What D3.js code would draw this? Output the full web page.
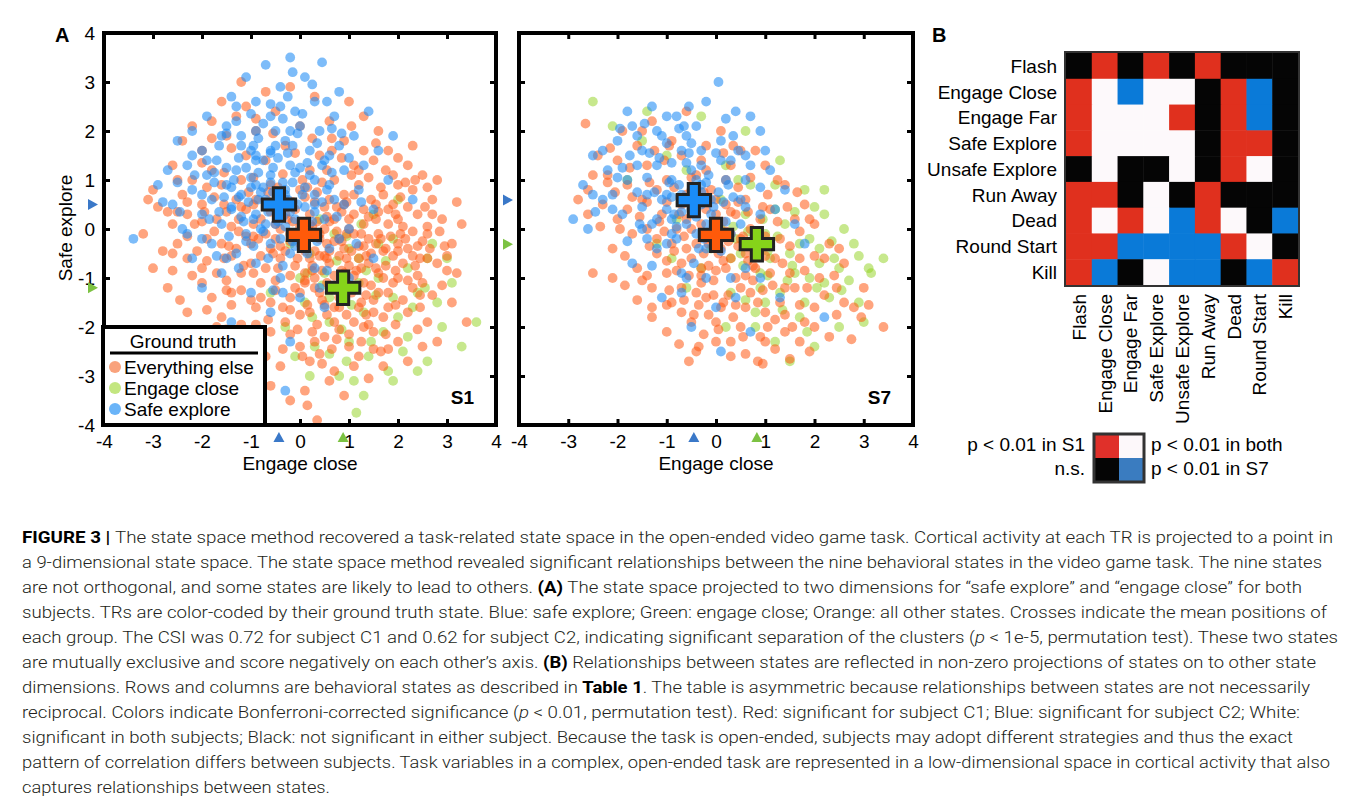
<!DOCTYPE html>
<html><head><meta charset="utf-8">
<script src="https://cdn.jsdelivr.net/npm/d3@7"></script>
<style>body{margin:0;background:#fff}svg{display:block}</style>
</head><body><svg id="c" width="1355" height="804"></svg>
<script>
// ---------- DATA ----------
const axisTicks = [-4,-3,-2,-1,0,1,2,3,4];
const groups = ["Everything else","Engage close","Safe explore"];

const s1Else = [[-1.2,3.0],[-0.7,2.8],[-1.6,2.6],[0.3,2.7],[-0.2,2.9],[1.0,2.6],[-1.1,2.5],
[-1.8,2.2],[-1.3,2.3],[-0.5,2.4],[0.6,2.2],[1.3,2.3],[-2.2,2.1],[0.0,2.1],[1.6,2.0],[-0.9,2.0],
[-2.4,1.8],[-1.5,1.9],[-0.3,1.7],[0.9,1.8],[1.8,1.6],[2.3,1.7],[-2.0,1.6],[0.4,1.5],[1.3,1.6],[-1.1,1.5],
[-2.6,1.3],[-1.8,1.2],[-0.7,1.4],[0.2,1.2],[1.1,1.3],[1.9,1.1],[2.5,1.1],[2.8,1.0],[-1.2,1.0],[0.7,1.0],[1.5,1.4],[-2.2,1.0],[2.2,1.3],
[-3.0,0.8],[-2.4,0.7],[-1.6,0.9],[-0.9,0.6],[0.0,0.8],[0.6,0.6],[1.2,0.9],[1.7,0.7],[2.3,0.8],[2.7,0.6],[-2.0,0.5],[0.9,0.5],[1.9,0.5],[-0.3,0.6],[2.0,0.9],[-1.3,0.6],
[-2.9,0.45],[-2.3,0.3],[-1.7,0.2],[-1.1,0.4],[-0.5,0.1],[0.2,0.3],[0.7,0.2],[1.3,0.4],[1.8,0.1],[2.4,0.3],[2.9,0.2],[-2.6,0.1],[0.5,0.45],[1.0,0.0],[-0.1,0.4],[1.6,0.35],[2.1,0.05],[-1.4,0.05],
[-3.2,-0.1],[-2.5,-0.3],[-1.9,-0.2],[-1.3,-0.4],[-0.7,-0.1],[0.0,-0.3],[0.4,-0.1],[0.9,-0.4],[1.4,-0.2],[2.0,-0.3],[2.6,-0.1],[3.1,-0.3],[-2.1,-0.45],[0.3,-0.45],[1.1,-0.1],[1.7,-0.45],[2.3,-0.05],[-0.4,-0.35],[0.7,-0.25],[-1.0,-0.3],
[-3.0,-0.8],[-2.3,-0.6],[-1.7,-0.9],[-1.0,-0.7],[-0.4,-0.6],[0.1,-0.9],[0.6,-0.7],[1.2,-0.6],[1.6,-0.9],[2.1,-0.7],[2.6,-0.6],[3.0,-0.85],[-1.4,-0.55],[0.4,-0.55],[1.9,-0.55],[-0.2,-0.95],[0.9,-0.9],[2.4,-0.95],
[-2.7,-1.2],[-2.0,-1.1],[-1.4,-1.3],[-0.8,-1.1],[-0.2,-1.4],[0.3,-1.2],[0.8,-1.4],[1.3,-1.1],[1.8,-1.3],[2.3,-1.2],[3.1,-1.5],[-1.0,-1.45],[0.1,-1.05],[1.5,-1.45],[2.0,-1.0],[-0.5,-1.25],
[-2.3,-1.7],[-1.6,-1.8],[-0.9,-1.6],[-0.3,-1.9],[0.2,-1.7],[0.7,-1.9],[1.2,-1.6],[1.7,-1.8],[2.2,-1.7],[2.6,-1.9],[3.4,-1.9],[-1.2,-1.95],[0.5,-1.55],[1.4,-1.95],
[-1.9,-2.2],[-1.2,-2.3],[-0.6,-2.1],[0.0,-2.4],[0.5,-2.2],[1.0,-2.4],[1.5,-2.1],[2.0,-2.3],[2.8,-2.3],[-0.2,-2.15],[0.8,-2.05],[1.8,-2.45],
[-1.3,-2.7],[-0.7,-2.6],[-0.4,-2.8],[0.2,-2.7],[0.7,-2.9],[1.2,-2.6],[1.7,-2.8],[0.4,-2.55],[2.2,-2.7],
[-0.6,-3.2],[0.1,-3.3],[0.15,-3.6],[0.35,-3.9],[0.9,-3.4],[1.4,-3.05],[-0.2,-3.5],[0.6,-3.1],
[-0.8,0.2],[-0.2,-0.1],[0.5,0.0],[0.8,-0.2],[1.1,0.3],[0.2,-0.6],[-0.6,-0.4],[-0.3,0.3],[0.6,-0.45],[1.4,-0.7],[0.9,0.7],[-1.1,-0.15],[0.3,0.55],[-0.1,-0.75],[1.2,-0.35],[0.0,0.05],[0.45,-0.85],[1.6,-0.1],[-0.7,-0.8],[0.1,-1.1],[0.7,-1.15],[1.0,-0.75],[-0.4,0.0],[0.35,0.15]];
const s1ElseMore = [[-1.55,1.15],[-0.95,1.05],[-0.35,1.12],[0.45,0.95],[1.05,1.1],[1.65,0.85],[2.15,0.95],[-1.9,0.85],[0.15,0.85],[-0.6,0.9],[1.4,1.05],[2.6,0.85],
[-2.3,0.55],[-1.75,0.65],[-1.2,0.45],[-0.65,0.75],[-0.15,0.55],[0.35,0.75],[0.75,0.45],[1.45,0.6],[2.05,0.65],[2.55,0.45],[1.1,0.7],[-0.95,0.5],[0.1,0.65],
[-2.0,0.15],[-1.5,0.35],[-0.95,0.1],[-0.25,0.2],[0.25,0.05],[0.85,0.35],[1.3,0.1],[1.95,0.3],[2.6,0.05],[-0.6,0.35],[1.55,0.2],[0.55,0.25],[-1.25,0.2],
[-2.3,-0.15],[-1.6,-0.3],[-0.85,-0.2],[-0.2,-0.25],[0.15,-0.15],[0.55,-0.3],[0.95,-0.1],[1.3,-0.35],[1.85,-0.15],[2.4,-0.35],[2.85,-0.05],[-1.25,-0.05],[0.75,-0.05],[1.55,-0.3],[2.15,-0.2],
[-2.6,-0.5],[-1.9,-0.65],[-1.15,-0.75],[-0.55,-0.5],[-0.05,-0.6],[0.25,-0.75],[0.8,-0.55],[1.05,-0.45],[1.45,-0.5],[1.75,-0.75],[2.3,-0.55],[2.8,-0.7],[0.55,-0.6],[1.25,-0.8],[2.0,-0.45],
[-2.2,-0.95],[-1.5,-1.05],[-0.95,-0.9],[-0.45,-0.8],[0.3,-1.0],[0.55,-1.1],[1.1,-0.95],[1.45,-1.15],[1.95,-0.85],[2.5,-1.1],[-0.1,-1.2],[0.85,-0.85],[1.7,-1.0],[2.2,-1.05],
[-1.8,-1.4],[-1.2,-1.25],[-0.6,-1.5],[0.0,-1.3],[0.45,-1.45],[1.05,-1.3],[1.6,-1.3],[2.1,-1.45],[2.7,-1.35],[0.7,-1.6],[1.25,-1.5],[-0.35,-1.6],
[-1.9,-1.65],[-1.4,-1.55],[-0.65,-1.85],[0.0,-1.75],[0.35,-1.95],[0.95,-1.75],[1.5,-1.7],[1.95,-1.95],[2.45,-1.6],[1.1,-1.9],
[-1.5,-2.05],[-0.9,-2.4],[-0.35,-2.45],[0.25,-2.1],[0.65,-2.45],[1.25,-2.3],[1.65,-2.5],[2.4,-2.05],[0.05,-2.6],[1.0,-2.15],
[-1.4,1.65],[-0.55,1.95],[0.65,1.85],[1.05,2.1],[-2.0,1.35],[2.0,1.45],[-0.1,1.55],[0.85,1.45],[-2.7,0.35],[-3.1,0.6],[3.3,0.1],[3.0,-0.55],[-2.8,-0.45],[-2.45,-1.45],[2.9,-1.15],
[0.2,0.1],[0.6,0.15],[1.0,0.2],[1.4,0.25],[1.8,0.4],[2.2,0.45],[0.4,-0.2],[0.85,-0.25],[1.25,-0.1],[1.65,-0.2],[2.05,-0.1],[2.5,-0.25],[0.1,-0.45],[0.5,-0.55],[0.95,-0.6],[1.35,-0.55],[1.75,-0.4],[2.2,-0.4],[2.65,-0.4],[0.25,-0.85],[0.7,-0.95],[1.15,-0.85],[1.55,-0.8],[1.9,-1.1],[2.35,-0.75],[0.4,-1.3],[0.9,-1.15],[1.35,-1.35],[1.8,-1.6],[2.45,-1.35],[0.15,-1.55],[0.55,-1.75],[0.8,-1.6],[1.35,-1.75],[1.95,-1.55],[0.3,-2.3],[0.75,-2.25],[1.3,-2.0],[1.75,-2.15],[-0.2,-1.65],[-0.5,-1.05],[-0.8,-0.55],[-1.2,-0.9],[-1.55,-0.6],[-0.3,-0.45],[-0.15,0.15],[-0.5,-0.2],[-0.95,-0.15],[-1.45,-0.35],[-1.75,-0.05],[-2.15,0.1],[-2.5,0.35],[-1.95,0.35],[-1.55,0.5],[-1.05,0.75],[-0.45,0.85],[0.05,1.0],[0.55,1.2],[1.2,1.2],[1.75,1.2],[2.35,1.0],[-0.8,-1.4],[-1.5,-1.25],[-2.0,-0.8],[-2.6,-0.85],[0.95,0.55],[1.55,0.5],[2.0,0.2],[2.7,0.3],[2.45,-0.6],[-0.05,-2.05],[0.45,-2.75],[1.1,-2.8],[1.5,-2.45],[2.5,-2.4],[-0.9,-1.95],[-1.7,-2.0],[0.65,1.6],[1.55,1.75],[-0.9,2.25],[0.25,1.85],[-1.8,1.85],[-2.5,1.0],[3.2,-0.9],[2.95,-0.35],[3.2,0.55]];

const s1Engage = [[1.5,0.3],[0.7,-0.1],[1.9,-0.2],[0.2,-0.5],[1.2,-0.6],[2.2,-0.8],[0.5,-0.9],[1.6,-1.0],[2.6,-0.6],[0.9,-1.3],[1.9,-1.4],[0.1,-1.5],[1.3,-1.7],[2.3,-1.6],[0.6,-1.9],[1.7,-2.1],[2.9,-2.0],[1.0,-2.3],[2.1,-2.5],[0.3,-2.4],[1.4,-2.6],[3.6,-1.9],[2.6,-2.7],[0.8,-3.0],[1.9,-3.1],[1.15,-3.75],[1.3,-3.4],[-0.3,-2.0],[0.0,-1.0],[2.4,-1.3],[1.0,-0.4],[3.1,-1.1],[-0.6,-1.3],[2.0,0.6],[0.4,0.2],[1.2,-1.1],[0.6,-1.4],[1.6,-0.3],[2.8,-1.5],[0.2,-3.0],[-0.2,-0.3],[1.8,-2.9],[2.2,-2.2],[0.95,-2.7],[3.3,-2.4],
[0.75,-0.65],[1.35,-0.85],[0.45,-1.15],[1.05,-1.55],[1.55,-1.35],[0.25,-1.8],[0.85,-2.05],[1.45,-2.3],[2.0,-1.8],[2.55,-1.2],[1.75,-0.65],[0.15,-0.9],[0.6,-2.55],[1.1,-3.1],[2.4,-2.9],[2.7,-0.3],[1.25,0.1],[0.95,-0.15],[3.0,-0.6],[-0.1,-2.6]];

const s1Safe = [[-0.2,3.5],[0.45,3.4],[-0.7,3.35],[-1.1,3.1],[0.1,3.1],[-0.4,2.9],[0.8,2.8],[-1.4,2.7],[-0.9,2.6],[0.3,2.6],[-0.1,2.4],[-1.9,2.3],[-0.6,2.3],[0.7,2.3],[1.4,2.4],[-1.3,2.2],[0.0,2.1],[-2.2,2.0],[-0.9,2.0],[0.4,2.0],[1.1,1.9],[-1.6,1.9],[-2.5,1.8],[-0.3,1.8],[0.8,1.7],[-1.2,1.7],[1.6,1.6],[-2.0,1.6],[-0.6,1.6],[0.2,1.6],[-1.7,1.4],[-0.9,1.4],[0.5,1.4],[1.3,1.3],[-2.3,1.3],[-0.2,1.3],[-1.3,1.2],[0.9,1.2],[-2.9,0.9],[-1.9,1.1],[-0.6,1.1],[0.2,1.1],[1.8,1.0],[-1.5,0.9],[-0.9,0.9],[0.6,0.9],[-2.2,0.8],[-0.3,0.8],[1.2,0.8],[-1.2,0.7],[0.3,0.7],[-1.8,0.6],[-0.7,0.6],[0.9,0.5],[-2.6,0.5],[-1.4,0.4],[-0.4,0.4],[0.1,0.45],[1.5,0.4],[-2.0,0.3],[-0.9,0.3],[0.5,0.2],[-1.6,0.1],[-0.5,0.1],[1.0,0.0],[-2.4,0.0],[-1.1,-0.1],[0.0,-0.1],[-3.4,-0.2],[-1.8,-0.3],[-0.6,-0.3],[0.6,-0.4],[-1.3,-0.5],[-0.2,-0.5],[-2.2,-0.6],[-0.9,-0.7],[0.3,-0.8],[-1.6,-0.9],[-0.4,-1.0],[1.0,-1.0],[-2.0,-1.2],[-1.0,-1.3],[0.0,-1.4],[-0.6,-1.7],[0.5,-1.6],[-1.4,-1.9],[-1.9,-2.2],[-0.2,-2.3],[-0.8,-2.6],[-0.3,-3.3],[1.9,1.9],[2.3,0.6],[1.5,-0.6],[-0.1,0.2],[-0.8,0.0],[0.3,1.0],[-1.0,1.6],[-0.5,2.0],[0.6,1.5],[-1.5,2.1],[-2.7,1.2],[-2.0,-0.2],[-0.3,0.05],[-1.2,0.25],[0.8,-0.2]];
const s1SafeMore = [[-0.45,0.55],[-0.75,0.85],[-0.15,0.95],[-1.05,0.55],[-0.55,1.25],[0.05,0.7],[-0.35,0.25],[-1.35,1.0],[-0.85,1.15],[0.15,1.35],[-0.65,0.35],[-1.15,0.15],[-0.05,0.5],[0.45,0.55],[-1.55,0.65],[-0.95,1.7],[-0.25,1.55],[0.35,1.75],[-1.75,0.95],[-0.45,1.45],[0.65,1.15],[-1.25,1.45],[-0.15,-0.25],[-0.75,-0.05],[0.25,0.15],[-1.45,-0.15],[-0.95,-0.35],[-0.35,-0.75],[0.15,-0.5],[-1.85,0.2],[-2.15,1.1],[-1.65,1.7],[-0.75,2.15],[0.05,2.35],[-0.25,2.7],[0.55,2.6],[-1.0,2.35],[1.0,1.45],[0.75,0.25],[1.25,0.55],[-2.45,0.35],[-1.25,-0.8],[-0.55,-1.25],[0.4,-1.2],[-1.7,-0.55],[-0.85,0.6],[-0.6,0.95],[-0.3,0.7],[-1.0,0.85],[-0.1,1.15],[0.3,0.35],[-0.5,1.7],[-1.4,0.45],[-0.75,1.4],[0.1,0.05],[-1.1,1.25],[-0.4,-0.2],[0.55,0.8],[-1.9,1.4],[-0.2,2.0],[0.85,1.95],[-2.8,0.55],[1.15,-0.3],[-2.3,-0.1],[0.55,-0.85],[-1.5,1.95],[-0.6,2.55],[0.25,2.95],
[-0.55,0.45],[-0.35,0.95],[-0.8,0.75],[-0.2,0.35],[-1.0,1.05],[-0.6,1.55],[-0.15,1.7],[0.1,0.85],[-1.25,0.65],[-0.95,0.2],[-0.45,0.15],[0.3,0.5],[-1.5,1.25],[-0.85,1.85],[-0.35,2.25],[0.45,1.3],[-1.2,1.9],[-1.65,0.35],[-2.0,0.7],[-1.1,-0.25],[-0.65,-0.6],[-0.1,-0.35],[0.35,-0.25],[-0.05,1.95],[0.65,2.05],[-0.4,2.5],[-1.3,2.5],[-1.75,1.15],[-0.7,0.1],[-0.25,0.6],[0.0,1.25],[-0.55,0.75],[-0.9,1.5],[-1.4,0.85],[-2.2,1.5],[-2.5,0.95],[0.7,0.6],[-0.35,-1.3],[-1.5,-0.6],[-0.15,3.2]];

const s7Else = [[-2.65,2.15],[-2.15,1.65],[-1.9,2.0],[-1.3,2.2],[-0.6,2.4],[0.1,2.0],[-2.4,1.5],[-1.6,1.7],[-0.9,1.8],[0.5,1.6],[-2.2,1.1],[-1.4,1.3],[-0.3,1.4],[1.0,1.3],[-2.6,0.8],[-1.8,0.9],[-1.0,1.0],[0.2,1.0],[1.4,0.9],[-2.3,0.5],[-1.5,0.6],[-0.6,0.7],[0.6,0.6],[1.8,0.5],[-2.0,0.2],[-1.1,0.3],[-0.2,0.4],[0.9,0.2],[2.0,0.1],[-1.7,-0.1],[-0.8,0.0],[0.3,-0.1],[1.3,-0.2],[2.3,-0.3],[-2.1,-0.4],[-1.2,-0.5],[-0.4,-0.3],[0.6,-0.5],[1.7,-0.6],[-1.6,-0.8],[-0.7,-0.7],[0.2,-0.8],[1.1,-0.9],[2.1,-1.0],[-1.3,-1.2],[-0.3,-1.1],[0.7,-1.3],[1.6,-1.2],[2.45,-1.2],[-0.9,-1.5],[0.1,-1.6],[1.0,-1.7],[2.0,-1.6],[2.95,-1.8],[-0.5,-1.9],[0.5,-2.0],[1.4,-2.1],[3.4,-2.0],[-1.0,-2.1],[0.0,-2.3],[0.85,-2.7],[1.5,-2.65],[2.3,-2.2],[-0.4,-2.5],[0.3,-2.6],[-1.3,-1.8],[-2.5,-0.9],[1.9,-2.5],[2.6,-1.5],[-0.1,0.8],[0.4,0.3],[-0.5,-0.6],[0.9,-0.4],[-0.2,-0.2],[0.1,-0.4],[0.7,0.0],[-0.9,-0.3],[0.4,-1.0],[-0.6,0.2],[1.2,-0.6],[0.0,0.3],[-1.4,0.0],[0.8,-0.8],[-0.3,-0.8],[0.5,-0.2],[1.5,-0.9],[-1.0,-0.9],[0.2,0.5],[1.1,0.4],[-0.7,0.5],[0.6,-1.6],[-0.2,-1.4],[1.3,-1.5],[-0.7,-1.2],[0.0,-1.9],[0.9,-2.2],[-1.8,0.4],[-2.8,0.6],[-1.2,0.8],[0.3,1.3],[1.6,0.2],[2.6,-0.7],[3.0,-1.2],[-0.4,1.1],[1.8,-1.9]];
const s7ElseMore = [[-1.75,1.25],[-1.05,1.4],[-0.5,1.05],[0.15,1.55],[0.7,1.05],[-2.05,0.75],[-1.35,0.95],[-0.75,0.3],[-0.25,0.75],[0.45,0.85],[1.05,0.7],[1.65,0.75],[-1.55,0.25],[-1.0,0.55],[-0.45,0.35],[0.15,0.15],[0.65,0.35],[1.25,0.15],[1.7,-0.05],[-2.35,0.05],[-1.2,-0.2],[-0.65,-0.15],[-0.05,0.05],[0.45,-0.35],[1.0,-0.15],[1.5,-0.35],[2.0,-0.55],[-1.85,-0.55],[-1.0,-0.65],[-0.25,-0.5],[0.3,-0.6],[0.75,-0.75],[1.35,-0.7],[1.85,-1.2],[-1.4,-0.95],[-0.55,-0.95],[-0.05,-1.05],[0.5,-1.2],[1.15,-1.15],[1.7,-1.55],[-0.95,-1.25],[-0.35,-1.55],[0.25,-1.35],[0.85,-1.5],[1.4,-1.75],[2.2,-1.35],[-0.7,-1.7],[-0.15,-1.75],[0.35,-1.8],[1.05,-2.0],[1.7,-2.3],[-0.25,-2.15],[0.3,-2.3],[0.6,-2.55],[1.2,-2.45],[-0.75,-2.35],[-1.6,-1.45],[-2.1,-1.0],[2.75,-2.25],[3.1,-1.55],[2.2,-0.6],[-0.85,0.85],[-0.3,0.1],[0.25,-0.25],[0.8,-0.3],[-0.6,-0.4],[-0.15,-0.75],[0.6,-0.95],[-0.4,0.55],[0.05,-0.5],[1.0,-0.55],[-1.15,0.15],[-0.95,1.7],[-0.2,1.7],[0.8,1.6],[-2.0,1.4],[-1.5,2.0],[-2.5,1.1],[-0.4,-1.3],[0.15,-1.5],[1.55,-2.0],[2.45,-1.75],[-1.3,-1.6],[-0.55,-2.7],[0.95,-2.75],
[-0.15,-0.3],[0.2,-0.05],[0.55,-0.15],[-0.5,0.0],[-0.85,-0.45],[-0.3,-0.95],[0.15,-0.65],[0.65,-0.65],[1.1,-0.35],[-1.05,-0.05],[-0.5,0.8],[0.0,0.6],[0.45,0.55],[-1.4,0.55],[-1.7,0.65],[-1.95,0.0],[-1.35,-0.35],[-0.8,-0.85],[-0.05,-1.35],[0.4,-1.55],[0.95,-1.25],[1.4,-1.2],[1.8,-0.85],[2.4,-0.95],[-0.45,-1.75],[0.05,-2.05],[0.55,-2.2],[1.2,-1.85],[-1.0,-1.55],[-1.85,-1.15],[-2.6,0.3],[-2.2,0.95],[-1.25,1.6],[-0.7,1.5],[0.35,1.7],[1.25,1.0],[1.9,0.2],[2.5,-0.4],[-0.35,-2.4],[1.0,-2.3],[2.0,-2.0],[2.8,-1.6],[0.75,-1.05],[-0.65,-1.45],[-1.5,-1.05],[0.0,-0.85],[0.3,0.35],[-0.2,1.2],[0.95,0.45],[1.45,0.45]];

const s7Engage = [[-2.5,2.6],[-2.1,2.1],[-1.4,2.4],[-0.3,2.3],[0.6,2.0],[-1.0,1.5],[0.2,1.3],[1.3,1.4],[-1.8,1.0],[0.7,0.9],[1.8,0.8],[-0.5,0.5],[1.2,0.4],[2.2,0.3],[0.1,0.0],[1.0,-0.1],[1.9,-0.2],[2.6,0.0],[0.5,-0.5],[1.5,-0.5],[2.4,-0.6],[3.1,-0.8],[0.9,-0.9],[1.9,-1.0],[2.7,-1.05],[3.15,-0.9],[3.4,-0.6],[0.3,-1.3],[1.3,-1.3],[2.3,-1.4],[2.9,-1.5],[0.8,-1.7],[1.7,-1.8],[2.5,-2.0],[0.2,-2.0],[1.2,-2.3],[2.0,-2.4],[-0.6,-1.2],[-1.2,-0.3],[0.6,0.3],[1.6,-0.9],[1.1,-0.6],[2.1,-0.7],[0.4,-0.2],[1.4,0.1],[0.9,-1.2],[-0.3,-0.8],[2.8,-0.3],[1.8,-1.5],[-0.8,0.2],[1.5,-2.7],[2.2,-1.1],
[0.75,-0.35],[1.25,-0.15],[0.55,-0.75],[1.05,-0.95],[1.55,-0.75],[0.35,0.05],[1.7,-0.3],[2.05,-1.2],[0.95,0.2],[2.35,-0.25],[1.35,-1.65],[0.6,-1.45],[2.0,0.45],[0.1,0.6],[-0.1,-0.4],[1.85,-2.1],[2.55,-1.25],[2.9,-0.55],[0.45,1.0],[-0.6,1.2],[-1.5,1.8],[1.2,0.9],[0.8,-2.0],[-0.9,-0.6],[3.0,-1.9],[2.2,0.8],
[1.05,-0.45],[0.65,-0.05],[1.45,-1.05],[2.1,-0.4],[0.3,-0.6],[1.6,0.35],[2.5,-0.8],[1.0,-1.5]];

const s7Safe = [[0.05,3.0],[-0.2,2.6],[-1.3,2.5],[-0.8,2.3],[0.4,2.4],[-1.7,2.1],[-0.4,2.1],[0.9,2.0],[-2.0,1.8],[-1.1,1.9],[0.1,1.8],[-2.5,1.5],[-1.5,1.6],[-0.7,1.6],[0.6,1.5],[-2.2,1.2],[-1.2,1.3],[-0.3,1.3],[1.1,1.2],[-2.7,0.9],[-1.8,1.0],[-0.9,1.0],[0.2,1.0],[1.4,0.8],[-2.3,0.6],[-1.4,0.7],[-0.5,0.7],[0.5,0.6],[-1.9,0.3],[-1.0,0.4],[-0.1,0.3],[0.9,0.3],[-2.6,0.0],[-1.5,0.0],[-0.6,0.1],[0.3,-0.1],[-1.2,-0.4],[-0.2,-0.4],[0.8,-0.5],[-1.7,-0.7],[-0.7,-0.9],[0.3,-1.0],[-1.1,-1.4],[0.0,-1.6],[-0.5,-2.0],[0.7,-2.1],[0.1,-2.5],[1.3,-1.4],[1.8,-0.3],[2.2,-1.8],[-0.9,0.2],[-0.3,0.9],[-0.6,1.9],[0.3,1.4],[-1.6,1.3],[-1.0,0.7],[-0.1,0.6],[-1.3,0.1],[0.6,1.0],[-2.1,0.4],[-0.4,-0.1],[1.0,1.6],[-1.8,2.4],[-0.5,1.2],[-0.8,-0.2],[0.9,-1.0],[-2.9,0.2],[1.6,0.1]];
const s7SafeMore = [[-0.45,0.55],[-0.75,0.9],[-0.2,0.95],[-1.1,0.6],[-0.6,1.35],[0.05,0.75],[-0.4,0.25],[-1.4,1.05],[-0.9,1.35],[0.1,1.4],[-0.7,0.35],[-1.2,0.2],[-0.05,0.45],[0.35,0.65],[-1.6,0.75],[-1.0,1.75],[-0.3,1.6],[0.35,1.9],[-1.9,1.25],[-0.5,1.75],[0.7,1.3],[-1.35,1.55],[-0.25,-0.2],[-0.8,0.05],[0.2,0.15],[-1.55,0.1],[-1.0,-0.3],[-0.45,-0.7],[0.1,-0.45],[-2.1,0.7],[-2.3,1.6],[-1.45,2.15],[-0.75,2.05],[0.2,2.25],[-0.55,2.5],[0.7,2.3],[-1.0,2.3],[0.9,0.85],[0.5,0.1],[-2.45,0.35],[-1.3,-0.75],[-0.7,-1.3],[0.4,-1.4],[-1.8,-0.25],[-0.9,0.65],[-0.3,0.75],[-1.6,1.9],[1.2,0.4],[-0.2,-1.0],[0.6,-0.8],
[-0.5,0.4],[-0.3,0.5],[-0.7,0.7],[-0.15,1.1],[-0.95,0.95],[-0.55,1.55],[0.15,0.55],[-1.25,0.75],[-0.85,0.3],[-0.4,1.0],[0.0,1.55],[-1.15,1.45],[-1.75,1.5],[-1.5,0.45],[-0.2,0.1],[0.25,0.9],[-0.65,2.1],[-1.2,2.0],[-2.0,1.05],[-0.9,-0.1],[0.05,-0.2],[-0.35,-0.4],[0.45,1.6],[-2.5,0.7],[-1.95,2.05],[0.6,0.45],[-0.6,-1.0],[-1.4,-0.2]];

// group means (crosses) [x, y]
const s1Means = [[0.08,-0.12],[0.88,-1.2],[-0.43,0.5]];   // else, engage, safe
const s7Means = [[0.0,-0.12],[0.83,-0.31],[-0.45,0.59]];

// Panel B
const states = ["Flash","Engage Close","Engage Far","Safe Explore","Unsafe Explore","Run Away","Dead","Round Start","Kill"];
const sigRows = ["KRKRKRKKK","RWBWWKRBK","RWWWRKRBK","RWWWWKRRK","KWKKWKRWK","RRKWKRKKK","RWRWBRWKB","RRBBBBRWK","RBKWBBKBR"];
const legendCodes = [["R","W"],["K","B"]];
const legendLabels = [["p < 0.01 in S1","p < 0.01 in both"],["n.s.","p < 0.01 in S7"]];

// ---------- DRAW ----------
const svg = d3.select("#c");
const FONT = "'Liberation Sans', Arial, sans-serif";
const dotCol = {"Everything else":"#ff5a14","Engage close":"#8fd21c","Safe explore":"#1f8cf5"};
const dotOp = {"Everything else":0.55,"Engage close":0.5,"Safe explore":0.58};
const crossCol = {"Everything else":"#ff5a0a","Engage close":"#86d31a","Safe explore":"#1a8cf8"};
const triCol = {"Engage close":"#7cc242","Safe explore":"#3a78c8"};

function panel(x0, x1, sets, means, name, showYLabels){
  const x = d3.scaleLinear().domain([-4,4]).range([x0,x1]);
  const y = d3.scaleLinear().domain([-4,4]).range([425,33]);
  const g = svg.append("g");
  [1,0,2].forEach(i=>{
    g.append("g").selectAll("circle").data(sets[i]).join("circle")
      .attr("cx",d=>x(d[0])).attr("cy",d=>y(d[1])).attr("r",4.9)
      .attr("fill",dotCol[groups[i]]).attr("fill-opacity",dotOp[groups[i]]);
  });
  [2,0,1].forEach(i=>{
    g.append("path").attr("d",d3.symbol(d3.symbolCross,620)())
      .attr("transform",`translate(${x(means[i][0])},${y(means[i][1])})`)
      .attr("fill",crossCol[groups[i]]).attr("stroke","#222").attr("stroke-width",3)
      .attr("stroke-linejoin","miter");
  });
  const fmt = d=>d;
  const bottom = g.append("g").attr("transform","translate(0,425)")
    .call(d3.axisBottom(x).tickValues(axisTicks).tickSizeInner(-6).tickSizeOuter(0).tickPadding(10).tickFormat(fmt));
  const top = g.append("g").attr("transform","translate(0,33)")
    .call(d3.axisTop(x).tickValues(axisTicks.slice(1,-1)).tickSizeInner(-6).tickSizeOuter(0).tickFormat(""));
  const left = g.append("g").attr("transform",`translate(${x0},0)`)
    .call(d3.axisLeft(y).tickValues(axisTicks).tickSizeInner(-6).tickSizeOuter(0).tickPadding(9).tickFormat(showYLabels?fmt:""));
  const right = g.append("g").attr("transform",`translate(${x1},0)`)
    .call(d3.axisRight(y).tickValues(axisTicks.slice(1,-1)).tickSizeInner(-6).tickSizeOuter(0).tickFormat(""));
  [bottom,top,left,right].forEach(a=>{
    a.select(".domain").remove();
    a.selectAll("line").attr("stroke","#000").attr("stroke-width",3);
    a.selectAll("text").attr("font-family",FONT).attr("font-size",19).attr("fill","#000");
  });
  g.append("rect").attr("x",x0).attr("y",33).attr("width",x1-x0).attr("height",392)
    .attr("fill","none").attr("stroke","#000").attr("stroke-width",4);
  [2,1].forEach(i=>{
    const ty = y(means[i][1]), tx = x(means[i][0]);
    g.append("path").attr("d",`M${x0-16},${ty-5.5}L${x0-6},${ty}L${x0-16},${ty+5.5}Z`).attr("fill",triCol[groups[i]]);
    g.append("path").attr("d",`M${tx-5.5},${442}L${tx},${432}L${tx+5.5},${442}Z`).attr("fill",triCol[groups[i]]);
  });
  g.append("text").attr("x",(x0+x1)/2).attr("y",470).attr("text-anchor","middle")
    .attr("font-family",FONT).attr("font-size",19).text("Engage close");
  g.append("text").attr("x",x1-22).attr("y",404).attr("text-anchor","end")
    .attr("font-family",FONT).attr("font-size",19).attr("font-weight","bold").text(name);
}

panel(104,496,[s1Else.concat(s1ElseMore),s1Engage,s1Safe.concat(s1SafeMore)],s1Means,"S1",true);
panel(519,913,[s7Else.concat(s7ElseMore),s7Engage,s7Safe.concat(s7SafeMore)],s7Means,"S7",false);

svg.append("text").attr("transform","translate(72,228) rotate(-90)").attr("text-anchor","middle")
  .attr("font-family",FONT).attr("font-size",19).text("Safe explore");
svg.append("text").attr("x",55).attr("y",42).attr("font-family",FONT).attr("font-size",20).attr("font-weight","bold").text("A");
svg.append("text").attr("x",932).attr("y",42).attr("font-family",FONT).attr("font-size",20).attr("font-weight","bold").text("B");

// legend in S1
const lg = svg.append("g");
lg.append("rect").attr("x",103).attr("y",327).attr("width",162).attr("height",98)
  .attr("fill","#fff").attr("stroke","#000").attr("stroke-width",4);
lg.append("text").attr("x",183).attr("y",348).attr("text-anchor","middle").attr("font-family",FONT).attr("font-size",19).text("Ground truth");
lg.append("line").attr("x1",110).attr("x2",258).attr("y1",353).attr("y2",353).attr("stroke","#000").attr("stroke-width",3);
const legendFill = {"Everything else":"#f9a27c","Engage close":"#c3e680","Safe explore":"#6ab4f8"};
groups.forEach((gname,i)=>{
  const cy = 367 + i*21;
  lg.append("circle").attr("cx",115).attr("cy",cy).attr("r",6).attr("fill",legendFill[gname]);
  lg.append("text").attr("x",124).attr("y",cy+7).attr("font-family",FONT).attr("font-size",19).text(gname);
});

// ---------- Panel B heatmap ----------
const hx = d3.scaleBand().domain(states).range([1066,1298]);
const hy = d3.scaleBand().domain(states).range([53,285]);
const sigColor = d3.scaleOrdinal().domain(["R","W","B","K"]).range(["#e0301e","#fdf9fb","#0a7ad8","#050505"]);
const hg = svg.append("g");
const cells = [];
sigRows.forEach((row,ri)=>row.split("").forEach((c,ci)=>cells.push({r:states[ri],c:states[ci],v:c})));
hg.selectAll("rect").data(cells).join("rect")
  .attr("x",d=>hx(d.c)).attr("y",d=>hy(d.r)).attr("width",hx.bandwidth()+0.5).attr("height",hy.bandwidth()+0.5)
  .attr("fill",d=>sigColor(d.v));
hg.append("rect").attr("x",1065).attr("y",52).attr("width",234).attr("height",234).attr("fill","none").attr("stroke","#333").attr("stroke-width",2);
hg.selectAll("text.row").data(states).join("text").attr("class","row")
  .attr("x",1057).attr("y",d=>hy(d)+hy.bandwidth()/2).attr("dy","0.36em").attr("text-anchor","end")
  .attr("font-family",FONT).attr("font-size",19).text(d=>d);
hg.selectAll("text.col").data(states).join("text").attr("class","col")
  .attr("transform",d=>`translate(${hx(d)+hx.bandwidth()/2+7},294) rotate(-90)`).attr("text-anchor","end")
  .attr("font-family",FONT).attr("font-size",19).text(d=>d);

const legColor = d3.scaleOrdinal().domain(["R","W","B","K"]).range(["#e0302a","#fdf8fa","#3a7cc0","#050505"]);
const lb = svg.append("g");
legendCodes.forEach((row,ri)=>row.forEach((c,ci)=>{
  lb.append("rect").attr("x",1094+ci*25).attr("y",434+ri*24).attr("width",25).attr("height",24).attr("fill",legColor(c));
}));
lb.append("rect").attr("x",1094).attr("y",434).attr("width",50).attr("height",48).attr("fill","none").attr("stroke","#333").attr("stroke-width",3);
legendLabels.forEach((row,ri)=>{
  lb.append("text").attr("x",1085).attr("y",451+ri*24).attr("text-anchor","end").attr("font-family",FONT).attr("font-size",19).text(row[0]);
  lb.append("text").attr("x",1151).attr("y",451+ri*24).attr("font-family",FONT).attr("font-size",19).text(row[1]);
});

// ---------- Caption ----------
const captionLines = [
 [["FIGURE 3 | ","b"],["The state space method recovered a task-related state space in the open-ended video game task. Cortical activity at each TR is projected to a point in",""]],
 [["a 9-dimensional state space. The state space method revealed significant relationships between the nine behavioral states in the video game task. The nine states",""]],
 [["are not orthogonal, and some states are likely to lead to others. ",""],["(A)","b"],[" The state space projected to two dimensions for \u201csafe explore\u201d and \u201cengage close\u201d for both",""]],
 [["subjects. TRs are color-coded by their ground truth state. Blue: safe explore; Green: engage close; Orange: all other states. Crosses indicate the mean positions of",""]],
 [["each group. The CSI was 0.72 for subject C1 and 0.62 for subject C2, indicating significant separation of the clusters (",""],["p","i"],[" < 1e-5, permutation test). These two states",""]],
 [["are mutually exclusive and score negatively on each other\u2019s axis. ",""],["(B)","b"],[" Relationships between states are reflected in non-zero projections of states on to other state",""]],
 [["dimensions. Rows and columns are behavioral states as described in ",""],["Table 1","b"],[". The table is asymmetric because relationships between states are not necessarily",""]],
 [["reciprocal. Colors indicate Bonferroni-corrected significance (",""],["p","i"],[" < 0.01, permutation test). Red: significant for subject C1; Blue: significant for subject C2; White:",""]],
 [["significant in both subjects; Black: not significant in either subject. Because the task is open-ended, subjects may adopt different strategies and thus the exact",""]],
 [["pattern of correlation differs between subjects. Task variables in a complex, open-ended task are represented in a low-dimensional space in cortical activity that also",""]],
 [["captures relationships between states.",""]]
];
const captionEnds = [1333,1322,1302,1327,1338,1316,1310,1300,1293,1330,330];
const cap = svg.append("g");
captionLines.forEach((segs,i)=>{
  const t = cap.append("text").attr("x",22).attr("y",543+i*25)
    .attr("font-family","Roboto, 'Liberation Sans', sans-serif").attr("font-size",16.5).attr("font-weight",300).attr("fill","#231f20")
    .attr("textLength",captionEnds[i]-22).attr("lengthAdjust","spacingAndGlyphs");
  segs.forEach(s=>{
    const ts = t.append("tspan").text(s[0]);
    if(s[1]==="b") ts.attr("font-weight","bold").attr("fill","#000");
    if(s[1]==="i") ts.attr("font-style","italic");
  });
});
</script>
</body></html>
